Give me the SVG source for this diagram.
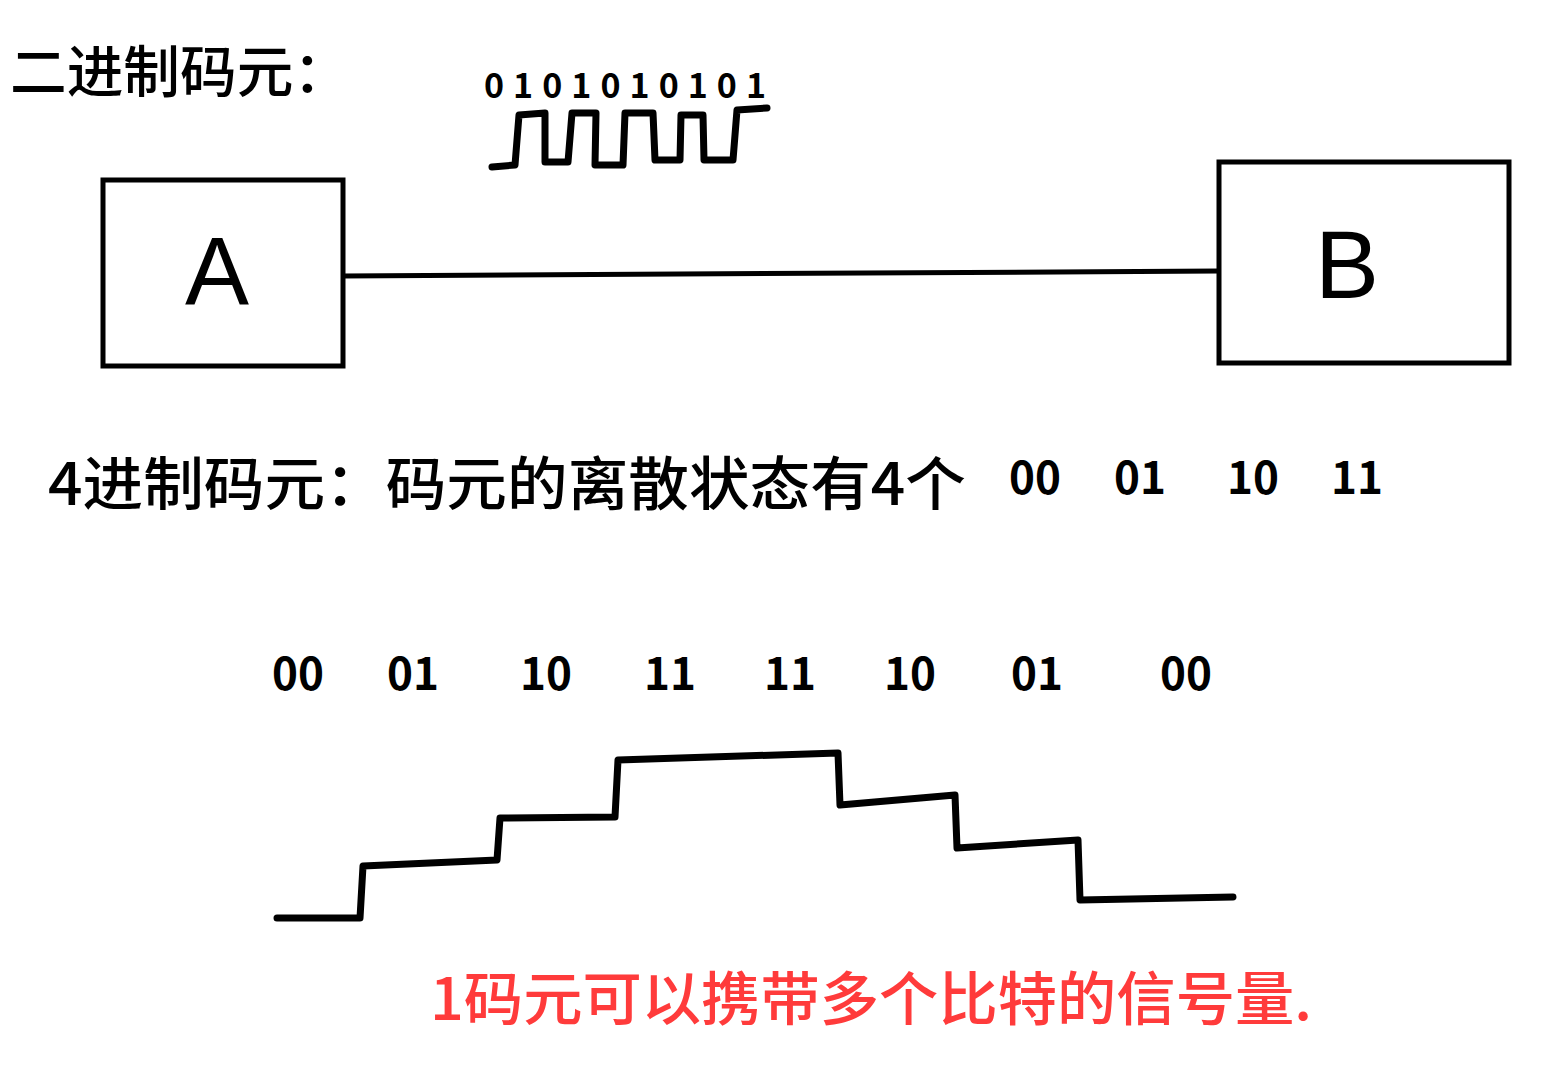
<svg xmlns="http://www.w3.org/2000/svg" width="1561" height="1080" viewBox="0 0 1561 1080">
<style>
.box{fill:#fff;stroke:#000;stroke-width:5}
.wire{fill:none;stroke:#000;stroke-width:5;stroke-linecap:round}
.wave{fill:none;stroke:#000;stroke-width:7;stroke-linecap:round;stroke-linejoin:round}
.t{font-family:"Noto Sans CJK SC","Noto Sans",sans-serif;fill:#000;font-weight:500}
.num{font-family:"Noto Sans CJK SC","Noto Sans",sans-serif;fill:#000;font-weight:700}
.big{font-family:"Liberation Sans",sans-serif;fill:#000;font-size:96px}
.red{font-family:"Noto Sans CJK SC","Noto Sans",sans-serif;fill:#ff3b3b;font-size:58px;font-weight:500}
</style>
<rect width="1561" height="1080" fill="#fff"/>
<text class="t" x="10" y="92" font-size="56" textLength="340" lengthAdjust="spacingAndGlyphs">二进制码元：</text>
<text class="num" x="484" y="98" font-size="34" textLength="282" lengthAdjust="spacing">0101010101</text>
<path class="wave" d="M492,167 L515,165 L519,115 L545,113 L545,162 L568,162 L572,113 L596,113 L595,165 L623,165 L625,113 L653,113 L655,160 L680,160 L681,115 L703,115 L704,160 L733,160 L737,110 L767,108"/>
<g id="connectors">
<path class="wire" d="M343,276 L1219,271"/>
</g>
<g id="nodeA">
<rect class="box" x="103" y="180" width="240" height="186"/>
<text class="big" x="217" y="304" text-anchor="middle">A</text>
</g>
<g id="nodeB">
<rect class="box" x="1219" y="162" width="290" height="201"/>
<text class="big" x="1347" y="298" text-anchor="middle">B</text>
</g>
<text class="t" x="48" y="505" font-size="58" textLength="918" lengthAdjust="spacingAndGlyphs">4进制码元：码元的离散状态有4个</text>
<text class="num" font-size="44" y="494" text-anchor="middle"><tspan x="1035">00</tspan><tspan x="1140">01</tspan><tspan x="1253">10</tspan><tspan x="1357">11</tspan></text>
<text class="num" font-size="44" y="690" text-anchor="middle"><tspan x="298">00</tspan><tspan x="413">01</tspan><tspan x="546">10</tspan><tspan x="670">11</tspan><tspan x="790">11</tspan><tspan x="910">10</tspan><tspan x="1037">01</tspan><tspan x="1186">00</tspan></text>
<path class="wave" d="M277,918 L360,918 L363,866 L497,860 L500,818 L615,817 L618,760 L838,753 L840,805 L955,795 L957,848 L1078,840 L1080,900 L1233,897"/>
<text class="red" x="430" y="1020" textLength="882" lengthAdjust="spacingAndGlyphs">1码元可以携带多个比特的信号量.</text>
</svg>
